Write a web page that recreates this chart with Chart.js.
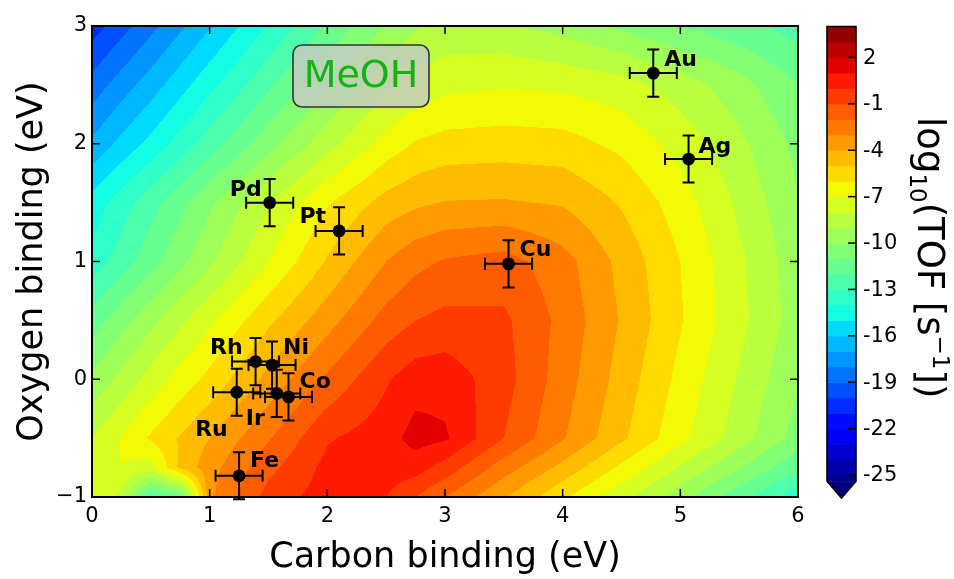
<!DOCTYPE html>
<html><head><meta charset="utf-8">
<script src="https://cdn.jsdelivr.net/npm/chart.js@4.4.1/dist/chart.umd.min.js"></script>
<style>html,body{margin:0;padding:0;background:#fff;}canvas{display:block;}</style>
</head><body>
<canvas id="c" width="954" height="579"></canvas>
<script>
// ---------------- data ----------------
const metals        = ['Au','Ag','Cu','Pd','Pt','Rh','Ni','Ru','Ir','Co','Fe'];
const carbonBinding = [4.77, 5.07, 3.54, 1.51, 2.10, 1.39, 1.53, 1.23, 1.57, 1.67, 1.25];
const oxygenBinding = [2.60, 1.87, 0.98, 1.50, 1.26, 0.15, 0.12, -0.11, -0.12, -0.15, -0.82];
const carbonError   = [0.2, 0.2, 0.2, 0.2, 0.2, 0.2, 0.2, 0.2, 0.2, 0.2, 0.2];
const oxygenError   = [0.2, 0.2, 0.2, 0.2, 0.2, 0.2, 0.2, 0.2, 0.2, 0.2, 0.2];

const xTickValues = [0, 1, 2, 3, 4, 5, 6];
const yTickValues = [-1, 0, 1, 2, 3];
const colorbarTicks = [2, -1, -4, -7, -10, -13, -16, -19, -22, -25];

// log10(TOF) on a grid
const gridCarbon = [0, 0.25, 0.5, 0.75, 1, 1.5, 2, 2.5, 2.75, 3, 3.5, 4, 4.5, 5, 5.5, 6];
const gridOxygen = [3, 2.5, 2, 1.5, 1, 0.5, 0, -0.5, -0.75, -1];
const logTOF_O_3     = [-20.5,-19.4,-18.3,-17.2,-16.1,-13.9,-11.8,-9.9,-9.1,-8.7,-8.8,-9.4,-10.2,-11.0,-11.7,-12.4];
const logTOF_O_2p5   = [-18.6,-17.5,-16.5,-15.4,-14.3,-12.2,-10.1,-8.3,-7.7,-7.3,-7.1,-7.2,-7.6,-8.5,-9.6,-11.0];
const logTOF_O_2     = [-16.8,-15.7,-14.7,-13.6,-12.5,-10.4,-8.4,-6.6,-5.9,-5.6,-5.5,-5.6,-6.25,-7.4,-8.75,-10.3];
const logTOF_O_1p5   = [-14.6,-13.5,-12.4,-11.3,-10.2,-8.1,-6.1,-4.6,-4.2,-3.95,-3.9,-4.1,-5.1,-6.5,-8.2,-9.9];
const logTOF_O_1     = [-13.6,-12.5,-11.4,-10.3,-9.2,-7.0,-4.9,-3.0,-2.3,-1.9,-1.6,-2.6,-4.3,-6.0,-7.8,-9.6];
const logTOF_O_0p5   = [-11.5,-10.4,-9.3,-8.2,-7.2,-5.2,-3.4,-1.6,-1.0,-0.7,-0.8,-2.3,-4.1,-5.9,-7.7,-9.5];
const logTOF_O_0     = [-9.8,-8.7,-7.6,-6.6,-5.7,-3.7,-1.8,-0.1,0.55,0.6,-0.6,-2.5,-4.4,-6.3,-8.1,-9.9];
const logTOF_O_m0p5  = [-8.0,-6.9,-5.85,-4.9,-4.0,-2.1,-0.1,0.55,1.4,1.15,-1.0,-2.9,-4.8,-6.7,-8.5,-10.4];
const logTOF_O_m0p75 = [-7.7,-7.0,-7.5,-4.8,-3.4,-1.3,0.3,0.6,0.45,-0.4,-2.5,-4.3,-6.2,-8.1,-9.9,-11.8];
const logTOF_O_m1    = [-7.3,-8.3,-12.5,-11.5,-3.2,-0.6,0.5,0.0,-1.0,-2.0,-3.9,-5.8,-7.7,-9.6,-11.7,-13.6];
const logTOFGrid = [logTOF_O_3, logTOF_O_2p5, logTOF_O_2, logTOF_O_1p5, logTOF_O_1,
                    logTOF_O_0p5, logTOF_O_0, logTOF_O_m0p5, logTOF_O_m0p75, logTOF_O_m1];

// contour levels (integers) and colour normalisation
const levelTop = 4, levelBottom = -25.4;
const normLow = -25.5, normHigh = 4;

// ---------------- styles ----------------
const FONT = 'DejaVu Sans';
const labelStyle = {
  Au:{dx:11,dy:-7,align:'left'},  Ag:{dx:10,dy:-6,align:'left'},  Cu:{dx:11,dy:-8,align:'left'},
  Pd:{dx:-8,dy:-7,align:'right'}, Pt:{dx:-13,dy:-8,align:'right'},Rh:{dx:-13,dy:-8,align:'right'},
  Ni:{dx:11,dy:-11,align:'left'}, Ru:{dx:-9,dy:44,align:'right'}, Ir:{dx:-12,dy:32,align:'right'},
  Co:{dx:11,dy:-9,align:'left'},  Fe:{dx:11,dy:-9,align:'left'}
};

function jet(f){
  f = Math.max(0, Math.min(1, f));
  const R=[[0,0],[0.35,0],[0.66,1],[0.89,1],[1,0.5]];
  const G=[[0,0],[0.125,0],[0.375,1],[0.64,1],[0.91,0],[1,0]];
  const B=[[0,0.5],[0.11,1],[0.34,1],[0.65,0],[1,0]];
  const seg = p => { for(let i=0;i<p.length-1;i++){ if(f<=p[i+1][0]) return p[i][1]+(p[i+1][1]-p[i][1])*(f-p[i][0])/(p[i+1][0]-p[i][0]); } return p[p.length-1][1]; };
  return [seg(R),seg(G),seg(B)].map(c=>Math.round(c*255));
}
const bandCache = {};
function bandColor(l){
  if(!(l in bandCache)){
    const lo = Math.max(l, levelBottom), hi = Math.min(l+1, levelTop);
    bandCache[l] = jet(((lo+hi)/2 - normLow)/(normHigh-normLow));
  }
  return bandCache[l];
}

const fieldPlugin = {
  id:'field',
  beforeDatasetsDraw(chart){
    const {ctx, chartArea:a, scales:{x:xs, y:ys}} = chart;
    const L=Math.round(a.left), T=Math.round(a.top);
    const W=Math.round(a.right)-L, H=Math.round(a.bottom)-T;
    const img = ctx.createImageData(W,H);
    const cj=new Int32Array(W), ct=new Float64Array(W);
    for(let i=0;i<W;i++){
      const xv = xs.getValueForPixel(L+i+0.5);
      let j=0; while(j<gridCarbon.length-2 && xv>gridCarbon[j+1]) j++;
      cj[i]=j; ct[i]=Math.min(1,Math.max(0,(xv-gridCarbon[j])/(gridCarbon[j+1]-gridCarbon[j])));
    }
    for(let r=0;r<H;r++){
      const yv = ys.getValueForPixel(T+r+0.5);
      let k=0; while(k<gridOxygen.length-2 && yv<gridOxygen[k+1]) k++;
      const u=Math.min(1,Math.max(0,(gridOxygen[k]-yv)/(gridOxygen[k]-gridOxygen[k+1])));
      const r0=logTOFGrid[k], r1=logTOFGrid[k+1];
      for(let i=0;i<W;i++){
        const j=cj[i], t=ct[i];
        const v=(1-t)*(1-u)*r0[j]+t*(1-u)*r0[j+1]+(1-t)*u*r1[j]+t*u*r1[j+1];
        const c=bandColor(Math.floor(v));
        const p=(r*W+i)*4;
        img.data[p]=c[0]; img.data[p+1]=c[1]; img.data[p+2]=c[2]; img.data[p+3]=255;
      }
    }
    ctx.putImageData(img,L,T);
  },
  afterDatasetsDraw(chart){
    const {ctx, chartArea:a, scales:{x:xs, y:ys}} = chart;
    ctx.save();
    // error bars
    ctx.strokeStyle='#000'; ctx.lineWidth=2;
    metals.forEach((m,i)=>{
      const px=xs.getPixelForValue(carbonBinding[i]), py=ys.getPixelForValue(oxygenBinding[i]);
      const x0=xs.getPixelForValue(carbonBinding[i]-carbonError[i]), x1=xs.getPixelForValue(carbonBinding[i]+carbonError[i]);
      const y0=ys.getPixelForValue(oxygenBinding[i]-oxygenError[i]), y1=ys.getPixelForValue(oxygenBinding[i]+oxygenError[i]);
      ctx.beginPath();
      ctx.moveTo(x0,py); ctx.lineTo(x1,py);
      ctx.moveTo(px,y0); ctx.lineTo(px,y1);
      ctx.moveTo(x0,py-6); ctx.lineTo(x0,py+6);
      ctx.moveTo(x1,py-6); ctx.lineTo(x1,py+6);
      ctx.moveTo(px-6,y0); ctx.lineTo(px+6,y0);
      ctx.moveTo(px-6,y1); ctx.lineTo(px+6,y1);
      ctx.stroke();
    });
    // markers on top of bars
    ctx.fillStyle='#000';
    metals.forEach((m,i)=>{
      ctx.beginPath();
      ctx.arc(xs.getPixelForValue(carbonBinding[i]), ys.getPixelForValue(oxygenBinding[i]), 6.4, 0, Math.PI*2);
      ctx.fill();
    });
    // labels
    ctx.font='bold 22px "'+FONT+'"'; ctx.textBaseline='alphabetic';
    metals.forEach((m,i)=>{
      const s=labelStyle[m];
      ctx.textAlign=s.align;
      ctx.fillText(m, xs.getPixelForValue(carbonBinding[i])+s.dx, ys.getPixelForValue(oxygenBinding[i])+s.dy);
    });
    // MeOH box
    const bx=xs.getPixelForValue(2.286), by=ys.getPixelForValue(2.575);
    const bw=136, bh=62, rad=9;
    ctx.beginPath();
    ctx.roundRect(bx-bw/2, by-bh/2, bw, bh, rad);
    ctx.fillStyle='rgba(196,204,194,0.84)'; ctx.fill();
    ctx.lineWidth=1.6; ctx.strokeStyle='#333'; ctx.stroke();
    ctx.fillStyle='#12b412'; ctx.font='38px "'+FONT+'"'; ctx.textAlign='center'; ctx.textBaseline='middle';
    ctx.fillText('MeOH', bx, by+1);
    // frame
    ctx.strokeStyle='#000'; ctx.lineWidth=2;
    ctx.strokeRect(a.left, a.top, a.right-a.left, a.bottom-a.top);
    ctx.lineWidth=1.5;
    ctx.beginPath();
    xTickValues.forEach(v=>{ const p=xs.getPixelForValue(v); ctx.moveTo(p,a.bottom); ctx.lineTo(p,a.bottom-8); ctx.moveTo(p,a.top); ctx.lineTo(p,a.top+8); });
    yTickValues.forEach(v=>{ const p=ys.getPixelForValue(v); ctx.moveTo(a.left,p); ctx.lineTo(a.left+8,p); ctx.moveTo(a.right,p); ctx.lineTo(a.right-8,p); });
    ctx.stroke();
    ctx.restore();
  },
  afterDraw(chart){
    const ctx=chart.ctx;
    ctx.save();
    const cbX=827, cbW=29, cbTopPx=26.5, pxPerUnit=15.466, tipY=498;
    const vy=v=>cbTopPx+(levelTop-v)*pxPerUnit;
    for(let l=Math.floor(levelBottom); l<levelTop; l++){
      const lo=Math.max(l,levelBottom), hi=l+1;
      const c=bandColor(l);
      ctx.fillStyle='rgb('+c.join(',')+')';
      ctx.fillRect(cbX, vy(hi), cbW, vy(lo)-vy(hi)+0.6);
    }
    const yb=vy(levelBottom);
    const under=jet(0);
    ctx.fillStyle='rgb('+under.join(',')+')';
    ctx.beginPath(); ctx.moveTo(cbX,yb); ctx.lineTo(cbX+cbW,yb); ctx.lineTo(cbX+cbW/2,tipY); ctx.closePath(); ctx.fill();
    ctx.strokeStyle='#000'; ctx.lineWidth=1.6;
    ctx.beginPath();
    ctx.moveTo(cbX,yb); ctx.lineTo(cbX,cbTopPx); ctx.lineTo(cbX+cbW,cbTopPx); ctx.lineTo(cbX+cbW,yb); ctx.lineTo(cbX+cbW/2,tipY); ctx.closePath();
    ctx.stroke();
    ctx.fillStyle='#000'; ctx.font='21px "'+FONT+'"'; ctx.textAlign='left'; ctx.textBaseline='middle';
    ctx.lineWidth=1.5;
    colorbarTicks.forEach(t=>{
      const y=vy(t);
      ctx.beginPath(); ctx.moveTo(cbX+cbW-8,y); ctx.lineTo(cbX+cbW,y); ctx.stroke();
      ctx.fillText(String(t), cbX+cbW+7, y+1);
    });
    // colorbar title, rotated clockwise
    ctx.translate(918,117); ctx.rotate(Math.PI/2);
    ctx.textBaseline='alphabetic'; ctx.textAlign='left';
    let x=0;
    const piece=(txt,size,dy)=>{ ctx.font=size+'px "'+FONT+'"'; ctx.fillText(txt,x,dy); x+=ctx.measureText(txt).width; };
    piece('log',37,0); piece('10',23,8); piece('(TOF [s',37,0); piece('\u22121',23,-15); piece('])',37,0);
    ctx.restore();
  }
};

const chart = new Chart(document.getElementById('c'), {
  type:'scatter',
  data:{ datasets:[{
    data: carbonBinding.map((x,i)=>({x, y:oxygenBinding[i]})),
    pointRadius:0, pointHoverRadius:0, showLine:false
  }]},
  options:{
    responsive:false, animation:false, devicePixelRatio:1, events:[],
    layout:{padding:{left:0, top:26, right:156, bottom:0}},
    plugins:{legend:{display:false}, tooltip:{enabled:false}},
    scales:{
      x:{ type:'linear', min:0, max:6,
          afterBuildTicks:s=>{ s.ticks = xTickValues.map(v=>({value:v})); },
          afterFit:s=>{ s.height = 82; },
          ticks:{ color:'#000', font:{family:FONT, size:21}, padding:7, maxRotation:0, autoSkip:false },
          grid:{ display:false, drawTicks:false }, border:{ display:false },
          title:{ display:true, text:'Carbon binding (eV)', color:'#000', font:{family:FONT, size:35}, padding:{top:0,bottom:0} } },
      y:{ type:'linear', min:-1, max:3,
          afterBuildTicks:s=>{ s.ticks = yTickValues.map(v=>({value:v})); },
          afterFit:s=>{ s.width = 92; },
          ticks:{ color:'#000', font:{family:FONT, size:21}, padding:5, autoSkip:false,
                  callback:v=> v<0 ? '\u2212'+Math.abs(v) : String(v) },
          grid:{ display:false, drawTicks:false }, border:{ display:false },
          title:{ display:true, text:'Oxygen binding (eV)', color:'#000', font:{family:FONT, size:35}, padding:{top:12,bottom:0} } }
    }
  },
  plugins:[fieldPlugin]
});
</script>
</body></html>
